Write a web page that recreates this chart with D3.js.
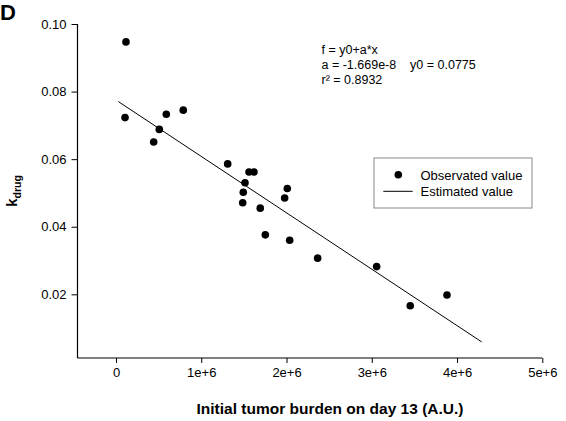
<!DOCTYPE html>
<html><head><meta charset="utf-8">
<script src="https://cdn.jsdelivr.net/npm/d3@7"></script>
<style>body{margin:0;background:#fff;} svg{display:block;font-family:"Liberation Sans",Arial,sans-serif;}</style>
</head><body>
<svg id="c" width="566" height="421"></svg>
<script>
const burden = [0.117e6,0.106e6,0.442e6,0.508e6,0.590e6,0.789e6,1.310e6,1.560e6,1.618e6,1.513e6,1.493e6,1.486e6,1.692e6,1.751e6,1.978e6,2.009e6,2.037e6,2.365e6,3.057e6,3.451e6,3.882e6];
const kdrug  = [0.0947,0.0723,0.0651,0.0688,0.0733,0.0745,0.0586,0.0562,0.0562,0.0530,0.0502,0.0471,0.0455,0.0376,0.0485,0.0513,0.0360,0.0307,0.0282,0.0166,0.0198];
const fitA = -1.669e-8, fitY0 = 0.0775;
const fitRange = [0.027e6, 4.29e6];
const xTicks = [0,1e6,2e6,3e6,4e6,5e6];
const xTickLabels = ["0","1e+6","2e+6","3e+6","4e+6","5e+6"];
const yTicks = [0.02,0.04,0.06,0.08,0.10];
const annotation = ["f = y0+a*x","a = -1.669e-8    y0 = 0.0775","r\u00b2 = 0.8932"];
const legendLabels = ["Observated value","Estimated value"];

const svg = d3.select("#c");
const x = d3.scaleLinear().domain([0,5e6]).range([116,542.3]);
const y = d3.scaleLinear().domain([0,0.10]).range([361.9,24]);
const axisY = 358, axisX = 77.5;

svg.append("line").attr("x1",axisX).attr("x2",axisX).attr("y1",y(0.10)).attr("y2",axisY).attr("stroke","#000").attr("stroke-width",1.2);
svg.append("line").attr("x1",axisX).attr("x2",x(5e6)).attr("y1",axisY).attr("y2",axisY).attr("stroke","#000").attr("stroke-width",1.2);

const xa = d3.axisBottom(x).tickValues(xTicks).tickFormat((d,i)=>xTickLabels[i]).tickSize(5).tickPadding(5);
const gx = svg.append("g").attr("transform",`translate(0,${axisY})`).call(xa);
gx.select(".domain").remove();
gx.selectAll("text").attr("font-size",13).attr("font-family","Liberation Sans, Arial, sans-serif").attr("fill","#000");
gx.selectAll("line").attr("stroke","#000");

const ya = d3.axisLeft(y).tickValues(yTicks).tickFormat(d3.format(".2f")).tickSize(6).tickPadding(5);
const gy = svg.append("g").attr("transform",`translate(${axisX},0)`).call(ya);
gy.select(".domain").remove();
gy.selectAll("text").attr("font-size",13).attr("font-family","Liberation Sans, Arial, sans-serif").attr("fill","#000");
gy.selectAll("line").attr("stroke","#000");

svg.append("line")
  .attr("x1",x(fitRange[0])).attr("y1",y(fitY0+fitA*fitRange[0]))
  .attr("x2",x(fitRange[1])).attr("y2",y(fitY0+fitA*fitRange[1]))
  .attr("stroke","#000").attr("stroke-width",1);

svg.selectAll("circle.pt").data(burden).enter().append("circle")
  .attr("cx",d=>x(d)).attr("cy",(d,i)=>y(kdrug[i])).attr("r",3.8).attr("fill","#000");

svg.append("g").selectAll("text").data(annotation).enter().append("text")
  .attr("x",321.5).attr("y",(d,i)=>54+i*15).attr("font-size",12.5).attr("fill","#000")
  .attr("xml:space","preserve").style("white-space","pre").text(d=>d);

svg.append("rect").attr("x",374).attr("y",158).attr("width",158).attr("height",50)
  .attr("fill","#fff").attr("stroke","#888").attr("stroke-width",1);
svg.append("circle").attr("cx",398.3).attr("cy",174.7).attr("r",3.8).attr("fill","#000");
svg.append("line").attr("x1",383.3).attr("x2",412.7).attr("y1",191.3).attr("y2",191.3).attr("stroke","#000");
svg.append("g").selectAll("text").data(legendLabels).enter().append("text")
  .attr("x",420.5).attr("y",(d,i)=>179.5+i*16.5).attr("font-size",13).attr("fill","#000").text(d=>d);

svg.append("text").attr("x",330).attr("y",414).attr("text-anchor","middle")
  .attr("font-size",15.5).attr("font-weight","bold").text("Initial tumor burden on day 13 (A.U.)");

const yl = svg.append("text").attr("transform","translate(17,191) rotate(-90)").attr("text-anchor","middle")
  .attr("font-weight","bold");
yl.append("tspan").attr("font-size",15).text("k");
yl.append("tspan").attr("font-size",10.5).attr("dy",3.5).text("drug");

svg.append("text").attr("x",0).attr("y",20).attr("font-size",22).attr("font-weight","bold").text("D");
</script>
</body></html>
